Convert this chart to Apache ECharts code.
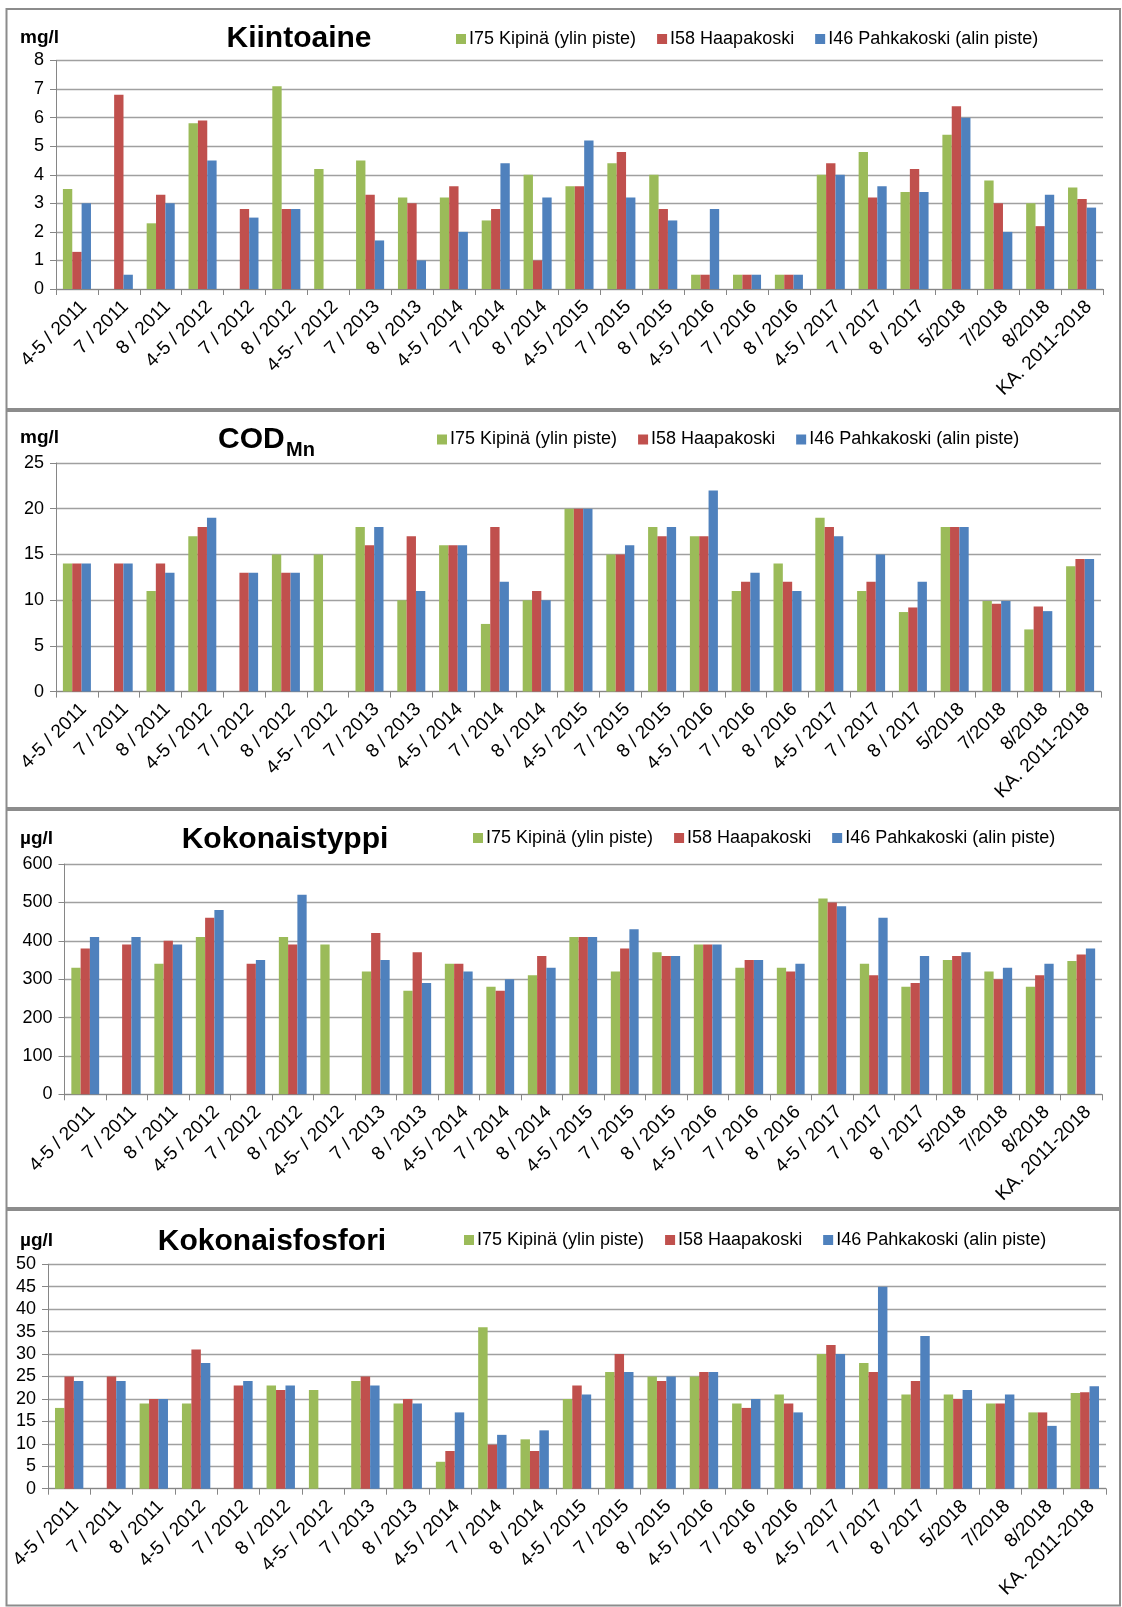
<!DOCTYPE html>
<html>
<head>
<meta charset="utf-8">
<script src="https://cdn.jsdelivr.net/npm/echarts@6/dist/echarts.min.js"></script>
<style>
  html, body { margin: 0; padding: 0; background: #ffffff; }
  #chart { width: 1122px; height: 1607px; }
</style>
</head>
<body>
<div id="chart"></div>
<script>
// Sampling occasions (month / year) and the long-term mean
const categories = [
  '4-5 / 2011', '7 / 2011', '8 / 2011', '4-5 / 2012', '7 / 2012', '8 / 2012',
  '4-5- / 2012', '7 / 2013', '8 / 2013', '4-5 / 2014', '7 / 2014', '8 / 2014',
  '4-5 / 2015', '7 / 2015', '8 / 2015', '4-5 / 2016', '7 / 2016', '8 / 2016',
  '4-5 / 2017', '7 / 2017', '8 / 2017', '5/2018', '7/2018', '8/2018', 'KA. 2011-2018'
];

const stationNames = ['I75 Kipinä (ylin piste)', 'I58 Haapakoski', 'I46 Pahkakoski (alin piste)'];

// Kiintoaine, mg/l
const kiintoaineKipina     = [3.5, null, 2.3, 5.8, null, 7.1, 4.2, 4.5, 3.2, 3.2, 2.4, 4.0, 3.6, 4.4, 4.0, 0.5, 0.5, 0.5, 4.0, 4.8, 3.4, 5.4, 3.8, 3.0, 3.55];
const kiintoaineHaapakoski = [1.3, 6.8, 3.3, 5.9, 2.8, 2.8, null, 3.3, 3.0, 3.6, 2.8, 1.0, 3.6, 4.8, 2.8, 0.5, 0.5, 0.5, 4.4, 3.2, 4.2, 6.4, 3.0, 2.2, 3.15];
const kiintoainePahkakoski = [3.0, 0.5, 3.0, 4.5, 2.5, 2.8, null, 1.7, 1.0, 2.0, 4.4, 3.2, 5.2, 3.2, 2.4, 2.8, 0.5, 0.5, 4.0, 3.6, 3.4, 6.0, 2.0, 3.3, 2.85];

// CODMn, mg/l
const codKipina     = [14, null, 11, 17, null, 15, 15, 18, 10, 16, 7.4, 10, 20, 15, 18, 17, 11, 14, 19, 11, 8.7, 18, 9.9, 6.8, 13.7];
const codHaapakoski = [14, 14, 14, 18, 13, 13, null, 16, 17, 16, 18, 11, 20, 15, 17, 17, 12, 12, 18, 12, 9.2, 18, 9.6, 9.3, 14.5];
const codPahkakoski = [14, 14, 13, 19, 13, 13, null, 18, 11, 16, 12, 10, 20, 16, 18, 22, 13, 11, 17, 15, 12, 18, 9.9, 8.8, 14.5];

// Kokonaistyppi, µg/l
const typpiKipina     = [330, null, 340, 410, null, 410, 390, 320, 270, 340, 280, 310, 410, 320, 370, 390, 330, 330, 510, 340, 280, 350, 320, 280, 347];
const typpiHaapakoski = [380, 390, 400, 460, 340, 390, null, 420, 370, 340, 270, 360, 410, 380, 360, 390, 350, 320, 500, 310, 290, 360, 300, 310, 364];
const typpiPahkakoski = [410, 410, 390, 480, 350, 520, null, 350, 290, 320, 300, 330, 410, 430, 360, 390, 350, 340, 490, 460, 360, 370, 330, 340, 380];

// Kokonaisfosfori, µg/l
const fosforiKipina     = [18, null, 19, 19, null, 23, 22, 24, 19, 6, 36, 11, 20, 26, 25, 25, 19, 21, 30, 28, 21, 21, 19, 17, 21.3];
const fosforiHaapakoski = [25, 25, 20, 31, 23, 22, null, 25, 20, 8.4, 9.8, 8.4, 23, 30, 24, 26, 18, 19, 32, 26, 24, 20, 19, 17, 21.5];
const fosforiPahkakoski = [24, 24, 20, 28, 24, 23, null, 23, 19, 17, 12, 13, 21, 26, 25, 26, 20, 17, 30, 45, 34, 22, 21, 14, 22.8];

const colors = ['#9BBB59', '#C0504D', '#4F81BD'];
const FONT = "'Liberation Sans', Arial, sans-serif";

// One box per parameter: layout of its plot, title, unit and legend
const panels = [
  { title: 'Kiintoaine', unit: 'mg/l', max: 8, interval: 1,
    values: [kiintoaineKipina, kiintoaineHaapakoski, kiintoainePahkakoski],
    box: [6.5, 9, 1113.5, 400],
    grid: { left: 56, top: 60.5, width: 1047, height: 228.5 },
    titleX: 299, titleY: 39, unitY: 38, legendX: 456, legendY: 40 },
  { title: 'COD', sub: 'Mn', unit: 'mg/l', max: 25, interval: 5,
    values: [codKipina, codHaapakoski, codPahkakoski],
    box: [6.5, 411, 1113.5, 397],
    grid: { left: 56, top: 463, width: 1045, height: 228.6 },
    titleX: 218, titleY: 440, unitY: 438, legendX: 437, legendY: 440.5 },
  { title: 'Kokonaistyppi', unit: 'µg/l', max: 600, interval: 100,
    values: [typpiKipina, typpiHaapakoski, typpiPahkakoski],
    box: [6.5, 810, 1113.5, 398],
    grid: { left: 64.5, top: 864, width: 1037.5, height: 230.3 },
    titleX: 285, titleY: 840, unitY: 839, legendX: 473, legendY: 839 },
  { title: 'Kokonaisfosfori', unit: 'µg/l', max: 50, interval: 5,
    values: [fosforiKipina, fosforiHaapakoski, fosforiPahkakoski],
    box: [6.5, 1210, 1113.5, 395.5],
    grid: { left: 48, top: 1264.3, width: 1058, height: 224.4 },
    titleX: 272, titleY: 1242, unitY: 1241, legendX: 464, legendY: 1241 }
];

const grids = [], xAxes = [], yAxes = [], series = [], legends = [], graphics = [];

panels.forEach((p, i) => {
  grids.push(Object.assign({ containLabel: false }, p.grid));

  xAxes.push({
    type: 'category', gridIndex: i, data: categories,
    axisLine: { lineStyle: { color: '#868686', width: 1 } },
    axisTick: { show: true, length: 6, lineStyle: { color: '#868686' } },
    axisLabel: { rotate: 45, margin: 8, color: '#000', fontSize: 19, fontFamily: FONT, interval: 0, verticalAlign: 'top' },
    splitLine: { show: false }
  });

  yAxes.push({
    type: 'value', gridIndex: i, min: 0, max: p.max, interval: p.interval,
    axisLine: { show: true, lineStyle: { color: '#868686', width: 1 } },
    axisTick: { show: true, length: 6, lineStyle: { color: '#868686' } },
    axisLabel: { margin: 12, color: '#000', fontSize: 18, fontFamily: FONT },
    splitLine: { show: true, lineStyle: { color: '#a0a0a0', width: 1.3 } }
  });

  p.values.forEach((vals, k) => {
    series.push({
      type: 'bar', name: stationNames[k], xAxisIndex: i, yAxisIndex: i,
      data: vals, barGap: '0%', barCategoryGap: '33%',
      itemStyle: { color: colors[k] },
      emphasis: { disabled: true }
    });
  });

  legends.push({
    data: stationNames, left: p.legendX, top: p.legendY - 10, padding: 0,
    itemWidth: 10, itemHeight: 10, itemGap: 21, icon: 'rect',
    textStyle: { fontSize: 18, fontFamily: FONT, color: '#000', padding: [0, 0, 0, -2] }
  });

  // Panel frame
  graphics.push({
    type: 'rect', silent: true,
    shape: { x: p.box[0], y: p.box[1], width: p.box[2], height: p.box[3] },
    style: { fill: null, stroke: '#8c8c8c', lineWidth: 2 }
  });

  // Unit label
  graphics.push({
    type: 'text', silent: true, left: 20, top: p.unitY - 10,
    style: { text: p.unit, font: 'bold 19px ' + FONT, fill: '#000' }
  });

  // Parameter title
  if (p.sub) {
    graphics.push({
      type: 'text', silent: true, x: p.titleX, y: p.titleY,
      style: { text: p.title, font: 'bold 30px ' + FONT, fill: '#000', textVerticalAlign: 'middle', textAlign: 'left' }
    });
    graphics.push({
      type: 'text', silent: true, x: p.titleX + 68, y: p.titleY + 10,
      style: { text: p.sub, font: 'bold 20px ' + FONT, fill: '#000', textVerticalAlign: 'middle', textAlign: 'left' }
    });
  } else {
    graphics.push({
      type: 'text', silent: true, x: p.titleX, y: p.titleY,
      style: { text: p.title, font: 'bold 30px ' + FONT, fill: '#000', textVerticalAlign: 'middle', textAlign: 'center' }
    });
  }
});

const chart = echarts.init(document.getElementById('chart'), null, { renderer: 'canvas' });
chart.setOption({
  backgroundColor: '#ffffff',
  animation: false,
  grid: grids,
  xAxis: xAxes,
  yAxis: yAxes,
  legend: legends,
  series: series,
  graphic: graphics
});
</script>
</body>
</html>
